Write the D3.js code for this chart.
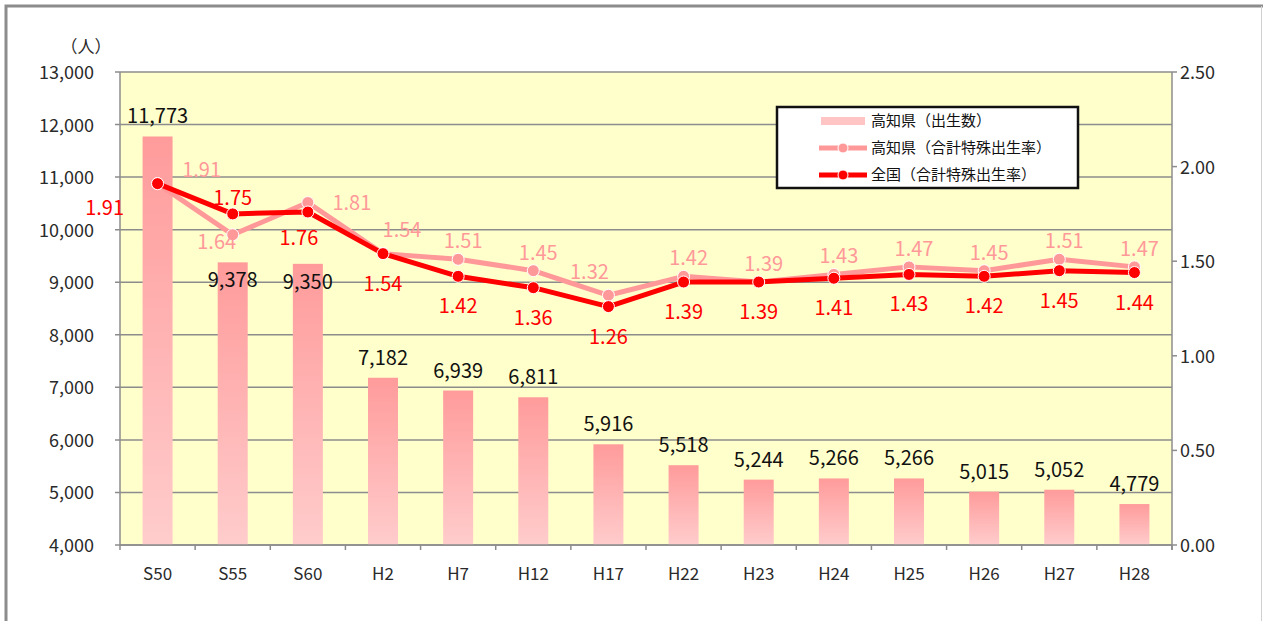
<!DOCTYPE html>
<html>
<head>
<meta charset="utf-8">
<script src="https://cdn.jsdelivr.net/npm/d3@7"></script>
<style>
  html, body { margin: 0; padding: 0; background: #fff; }
  svg { display: block; font-family: "Noto Sans CJK JP", "DejaVu Sans", sans-serif; }
</style>
</head>
<body>
<svg width="1263" height="621"></svg>
<script>
const categories = ['S50', 'S55', 'S60', 'H2', 'H7', 'H12', 'H17', 'H22', 'H23', 'H24', 'H25', 'H26', 'H27', 'H28'];
const births = [11773, 9378, 9350, 7182, 6939, 6811, 5916, 5518, 5244, 5266, 5266, 5015, 5052, 4779];
const kochiRate = [1.91, 1.64, 1.81, 1.54, 1.51, 1.45, 1.32, 1.42, 1.39, 1.43, 1.47, 1.45, 1.51, 1.47];
const nationRate = [1.91, 1.75, 1.76, 1.54, 1.42, 1.36, 1.26, 1.39, 1.39, 1.41, 1.43, 1.42, 1.45, 1.44];
const leftTicks = d3.range(4000, 13001, 1000);
const rightTicks = [0, 0.5, 1, 1.5, 2, 2.5];
const legendLabels = ['高知県（出生数）', '高知県（合計特殊出生率）', '全国（合計特殊出生率）'];

const svg = d3.select('svg');
const plot = { left: 120, right: 1172, top: 72, bottom: 545 };

const x = d3.scaleBand().domain(categories).range([plot.left, plot.right]);
const yL = d3.scaleLinear().domain([4000, 13000]).range([plot.bottom, plot.top]);
const yR = d3.scaleLinear().domain([0, 2.5]).range([plot.bottom, plot.top]);
const cx = d => x(d) + x.bandwidth() / 2;

const pink = '#ff9999';
const red = '#ff0000';

// frame
svg.append('path')
  .attr('d', 'M6,621 V6 H1263')
  .attr('fill', 'none')
  .attr('stroke', '#8c8c8c')
  .attr('stroke-width', 3);
svg.append('line')
  .attr('x1', 1261.5).attr('x2', 1261.5).attr('y1', 6).attr('y2', 621)
  .attr('stroke', '#d0d0d0');

const defs = svg.append('defs');
const grad = defs.append('linearGradient')
  .attr('id', 'barGrad')
  .attr('x1', 0).attr('y1', 0).attr('x2', 0).attr('y2', 1);
grad.append('stop').attr('offset', '0%').attr('stop-color', '#ff9b9b');
grad.append('stop').attr('offset', '100%').attr('stop-color', '#ffcccc');

// plot background
svg.append('rect')
  .attr('x', plot.left).attr('y', plot.top)
  .attr('width', plot.right - plot.left).attr('height', plot.bottom - plot.top)
  .attr('fill', '#ffffcc');

// gridlines
svg.append('g')
  .selectAll('line')
  .data(leftTicks)
  .join('line')
  .attr('x1', plot.left - 5).attr('x2', plot.right)
  .attr('y1', d => yL(d)).attr('y2', d => yL(d))
  .attr('stroke', '#8c8c8c')
  .attr('stroke-width', 1.5);

// axis lines
svg.append('line')
  .attr('x1', plot.left).attr('x2', plot.left)
  .attr('y1', plot.top).attr('y2', plot.bottom)
  .attr('stroke', '#8c8c8c').attr('stroke-width', 1.5);
svg.append('line')
  .attr('x1', plot.right).attr('x2', plot.right)
  .attr('y1', plot.top).attr('y2', plot.bottom + 5)
  .attr('stroke', '#8c8c8c').attr('stroke-width', 1.5);
svg.append('g')
  .selectAll('line')
  .data(rightTicks)
  .join('line')
  .attr('x1', plot.right).attr('x2', plot.right + 5)
  .attr('y1', d => yR(d)).attr('y2', d => yR(d))
  .attr('stroke', '#8c8c8c').attr('stroke-width', 1.5);

// bars
svg.append('g')
  .selectAll('rect')
  .data(births)
  .join('rect')
  .attr('x', (d, i) => cx(categories[i]) - 15)
  .attr('width', 30)
  .attr('y', d => yL(d))
  .attr('height', d => plot.bottom - yL(d))
  .attr('fill', 'url(#barGrad)');

// x axis line + ticks
svg.append('line')
  .attr('x1', plot.left).attr('x2', plot.right)
  .attr('y1', plot.bottom).attr('y2', plot.bottom)
  .attr('stroke', '#8c8c8c').attr('stroke-width', 1.5);
svg.append('g')
  .selectAll('line')
  .data(d3.range(categories.length + 1))
  .join('line')
  .attr('x1', i => plot.left + i * x.bandwidth())
  .attr('x2', i => plot.left + i * x.bandwidth())
  .attr('y1', plot.bottom).attr('y2', plot.bottom + 5)
  .attr('stroke', '#8c8c8c').attr('stroke-width', 1.5);

// axis labels
const fmt = d3.format(',');
svg.append('g')
  .selectAll('text')
  .data(leftTicks)
  .join('text')
  .attr('x', 94).attr('y', d => yL(d) + 7)
  .attr('text-anchor', 'end')
  .attr('font-size', 18)
  .attr('fill', '#2a2a2a')
  .text(d => fmt(d));
svg.append('text')
  .attr('x', 86).attr('y', 53)
  .attr('text-anchor', 'middle')
  .attr('font-size', 17)
  .attr('fill', '#2a2a2a')
  .text('（人）');
svg.append('g')
  .selectAll('text')
  .data(rightTicks)
  .join('text')
  .attr('x', 1180).attr('y', d => yR(d) + 7)
  .attr('font-size', 18)
  .attr('fill', '#2a2a2a')
  .text(d => d.toFixed(2));
svg.append('g')
  .selectAll('text')
  .data(categories)
  .join('text')
  .attr('x', d => cx(d)).attr('y', 580)
  .attr('text-anchor', 'middle')
  .attr('font-size', 17)
  .attr('fill', '#2a2a2a')
  .text(d => d);

// bar value labels (S55 / S60 sit lower, inside the bar top)
svg.append('g')
  .selectAll('text')
  .data(births)
  .join('text')
  .attr('x', (d, i) => cx(categories[i]))
  .attr('y', (d, i) => (i === 1 || i === 2) ? yL(d) + 25 : yL(d) - 13)
  .attr('text-anchor', 'middle')
  .attr('font-size', 20)
  .attr('fill', '#111')
  .text(d => fmt(d));

// lines
function drawSeries(values, color) {
  const line = d3.line()
    .x((d, i) => cx(categories[i]))
    .y(d => yR(d));
  svg.append('path')
    .datum(values)
    .attr('d', line)
    .attr('fill', 'none')
    .attr('stroke', color)
    .attr('stroke-width', 5)
    .attr('stroke-linejoin', 'round');
  svg.append('g')
    .selectAll('circle')
    .data(values)
    .join('circle')
    .attr('cx', (d, i) => cx(categories[i]))
    .attr('cy', d => yR(d))
    .attr('r', 6)
    .attr('fill', color)
    .attr('stroke', '#fff')
    .attr('stroke-width', 1);
}
drawSeries(kochiRate, pink);
drawSeries(nationRate, red);

// rate labels
function kochiPos(d, i) {
  const px = cx(categories[i]), py = yR(d);
  if (i === 0) return [px + 44, py - 7];
  if (i === 1) return [px - 16, py + 14];
  if (i === 2) return [px + 44, py + 7];
  if (i === 3) return [px + 19, py - 17];
  if (i === 6) return [px - 19, py - 16];
  return [px + 5, py - 11];
}
function nationPos(d, i) {
  const px = cx(categories[i]), py = yR(d);
  if (i === 0) return [px - 53, py + 31];
  if (i === 1) return [px, py - 9];
  if (i === 2) return [px - 9, py + 33];
  return [px, py + 37];
}
svg.append('g')
  .selectAll('text')
  .data(kochiRate)
  .join('text')
  .attr('x', (d, i) => kochiPos(d, i)[0])
  .attr('y', (d, i) => kochiPos(d, i)[1])
  .attr('text-anchor', 'middle')
  .attr('font-size', 20)
  .attr('fill', pink)
  .text(d => d.toFixed(2));
svg.append('g')
  .selectAll('text')
  .data(nationRate)
  .join('text')
  .attr('x', (d, i) => nationPos(d, i)[0])
  .attr('y', (d, i) => nationPos(d, i)[1])
  .attr('text-anchor', 'middle')
  .attr('font-size', 20)
  .attr('fill', red)
  .text(d => d.toFixed(2));

// legend
const lg = svg.append('g').attr('transform', 'translate(777,107)');
lg.append('rect')
  .attr('width', 301).attr('height', 81)
  .attr('fill', '#fff')
  .attr('stroke', '#111')
  .attr('stroke-width', 2.5);
const rows = lg.selectAll('g')
  .data(legendLabels)
  .join('g')
  .attr('transform', (d, i) => `translate(0,${14 + i * 27})`);
rows.append('text')
  .attr('x', 94).attr('y', 5)
  .attr('font-size', 15)
  .attr('fill', '#111')
  .text(d => d);
rows.filter((d, i) => i === 0).append('rect')
  .attr('x', 44).attr('y', -4).attr('width', 44).attr('height', 8)
  .attr('fill', '#ffc4c4');
rows.filter((d, i) => i > 0).append('line')
  .attr('x1', 42).attr('x2', 90)
  .attr('stroke', (d, i) => i === 0 ? pink : red)
  .attr('stroke-width', 5);
rows.filter((d, i) => i > 0).append('circle')
  .attr('cx', 66).attr('r', 5)
  .attr('fill', (d, i) => i === 0 ? pink : red)
  .attr('stroke', '#fff');
</script>
</body>
</html>
